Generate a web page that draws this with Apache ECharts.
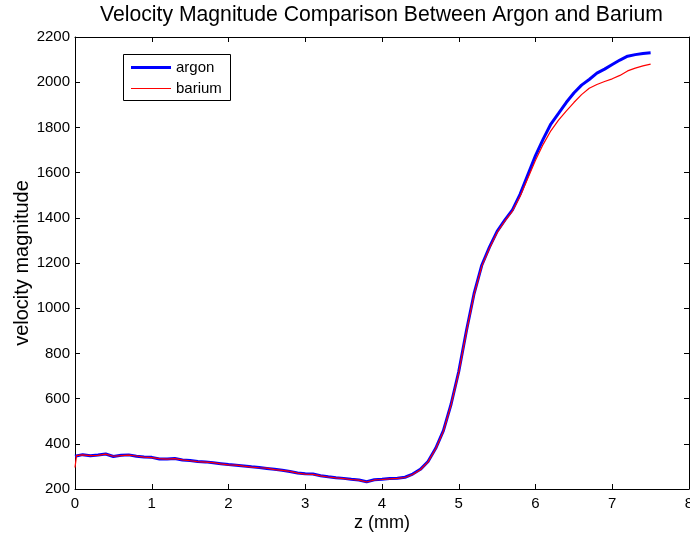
<!DOCTYPE html>
<html>
<head>
<meta charset="utf-8">
<script src="https://cdn.jsdelivr.net/npm/echarts@6/dist/echarts.min.js"></script>
<style>
  html, body { margin: 0; padding: 0; background: #fff; }
  #chart { width: 690px; height: 535px; }
</style>
</head>
<body>
<div id="chart"></div>
<script>
// z positions (mm)
const zs = [0, 0.02, 0.1, 0.2, 0.3, 0.4, 0.5, 0.6, 0.7, 0.8, 0.9,
  1.0, 1.1, 1.2, 1.3, 1.4, 1.5, 1.6, 1.7, 1.8, 1.9,
  2.0, 2.1, 2.2, 2.3, 2.4, 2.5, 2.6, 2.7, 2.8, 2.9,
  3.0, 3.1, 3.2, 3.3, 3.4, 3.5, 3.6, 3.7, 3.8, 3.9,
  4.0, 4.1, 4.2, 4.3, 4.4, 4.5, 4.6, 4.7, 4.8, 4.9,
  5.0, 5.1, 5.2, 5.3, 5.4, 5.5, 5.6, 5.7, 5.8, 5.9,
  6.0, 6.1, 6.2, 6.3, 6.4, 6.5, 6.6, 6.7, 6.8, 6.9,
  7.0, 7.1, 7.2, 7.3, 7.4, 7.5]

const argon = [345, 350, 352, 347, 350, 355, 344, 349, 351, 345, 342,
  340, 333, 333, 335, 328, 326, 322, 320, 316, 312,
  308, 305, 302, 298, 295, 291, 287, 283, 277, 271,
  267, 266, 259, 254, 250, 247, 243, 240, 232, 241,
  243, 246, 248, 252, 266, 287, 322, 380, 458, 575,
  720, 900, 1065, 1190, 1270, 1340, 1390, 1435, 1505, 1590,
  1675, 1748, 1815, 1862, 1910, 1952, 1987, 2012, 2040, 2058,
  2078, 2098, 2115, 2122, 2127, 2130]

const barium = [295, 348, 351, 348, 349, 354, 345, 348, 350, 346, 341,
  339, 334, 332, 334, 329, 325, 321, 319, 317, 311,
  307, 306, 301, 297, 294, 292, 286, 282, 278, 270,
  266, 265, 258, 253, 249, 246, 242, 239, 231, 240,
  242, 245, 247, 251, 264, 285, 320, 378, 455, 572,
  715, 895, 1060, 1185, 1265, 1335, 1385, 1430, 1495, 1575,
  1655, 1725, 1785, 1832, 1872, 1910, 1945, 1973, 1990, 2003,
  2015, 2030, 2050, 2062, 2072, 2080]

const xTicks = [0, 1, 2, 3, 4, 5, 6, 7, 8]
const yTicks = [200, 400, 600, 800, 1000, 1200, 1400, 1600, 1800, 2000, 2200]

const chart = echarts.init(document.getElementById('chart'))

const font = 'Liberation Sans, Arial, sans-serif'
const tickStyle = { show: true, inside: true, length: 5, lineStyle: { color: '#000', width: 1 } }
const axisLine = { show: true, onZero: false, lineStyle: { color: '#000', width: 1 } }

const option = {
  animation: false,
  backgroundColor: '#fff',
  title: {
    text: 'Velocity Magnitude Comparison Between Argon and Barium',
    left: 100,
    top: 5,
    padding: 0,
    textStyle: { fontFamily: font, fontSize: 21.2, fontWeight: 'normal', color: '#000' }
  },
  grid: { left: 75, right: 1, top: 37, bottom: 46, outerBoundsMode: 'none' },
  graphic: [{
    type: 'rect',
    shape: { x: 123.5, y: 54.5, width: 107, height: 46 },
    style: { fill: '#fff', stroke: '#000', lineWidth: 1 },
    z: 10
  }],
  legend: [
    {
      data: ['argon'], left: 131, top: 60, padding: 0, icon: 'rect',
      itemWidth: 40, itemHeight: 3, itemGap: 4, z: 20,
      textStyle: { fontFamily: font, fontSize: 15, color: '#000' }
    },
    {
      data: ['barium'], left: 131, top: 81, padding: 0, icon: 'rect',
      itemWidth: 40, itemHeight: 1, itemGap: 4, z: 20,
      textStyle: { fontFamily: font, fontSize: 15, color: '#000' }
    }
  ],
  xAxis: [
    {
      type: 'value', min: 0, max: 8, interval: 1, position: 'bottom',
      name: 'z (mm)', nameLocation: 'middle', nameGap: 25, nameMoveOverlap: false,
      nameTextStyle: { fontFamily: font, fontSize: 18, color: '#000' },
      axisLine: axisLine, axisTick: tickStyle, splitLine: { show: false },
      axisLabel: {
        margin: 7, fontFamily: font, fontSize: 15, color: '#000',
        formatter: v => xTicks.includes(v) ? String(v) : ''
      }
    },
    {
      type: 'value', min: 0, max: 8, interval: 1, position: 'top',
      axisLine: axisLine, axisTick: tickStyle, splitLine: { show: false },
      axisLabel: { show: false }
    }
  ],
  yAxis: [
    {
      type: 'value', min: 200, max: 2200, interval: 200, position: 'left',
      name: 'velocity magnitude', nameLocation: 'middle', nameGap: 43, nameMoveOverlap: false,
      nameTextStyle: { fontFamily: font, fontSize: 20, color: '#000' },
      axisLine: axisLine, axisTick: tickStyle, splitLine: { show: false },
      axisLabel: {
        margin: 5, fontFamily: font, fontSize: 15, color: '#000',
        formatter: v => yTicks.includes(v) ? String(v) : ''
      }
    },
    {
      type: 'value', min: 200, max: 2200, interval: 200, position: 'right',
      axisLine: axisLine, axisTick: tickStyle, splitLine: { show: false },
      axisLabel: { show: false }
    }
  ],
  series: [
    {
      name: 'argon', type: 'line', showSymbol: false, symbol: 'none',
      data: zs.map((z, i) => [z, argon[i]]),
      color: '#0000ff',
      lineStyle: { color: '#0000ff', width: 3 }
    },
    {
      name: 'barium', type: 'line', showSymbol: false, symbol: 'none',
      data: zs.map((z, i) => [z, barium[i]]),
      color: '#ff0000',
      lineStyle: { color: '#ff0000', width: 1.2 }
    }
  ]
}

chart.setOption(option)
</script>
</body>
</html>
